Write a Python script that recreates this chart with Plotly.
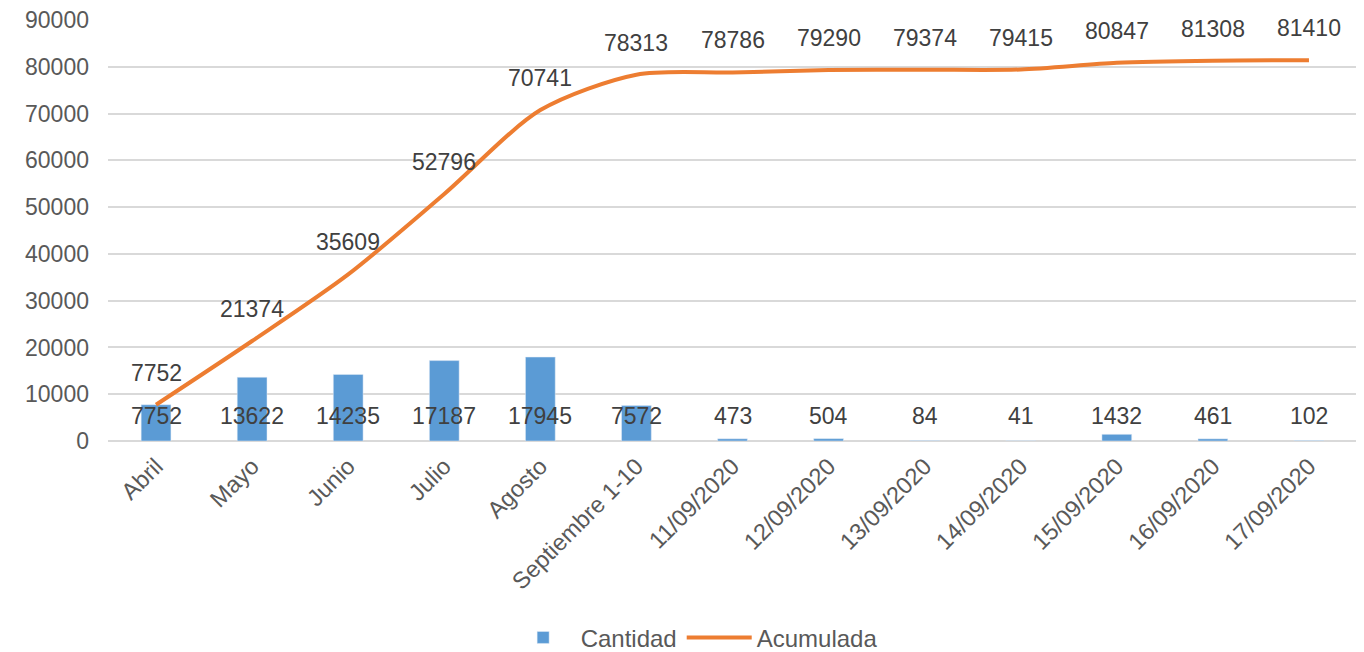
import plotly.graph_objects as go

categorias = ["Abril", "Mayo", "Junio", "Julio", "Agosto", "Septiembre 1-10",
              "11/09/2020", "12/09/2020", "13/09/2020", "14/09/2020",
              "15/09/2020", "16/09/2020", "17/09/2020"]
cantidad = [7752, 13622, 14235, 17187, 17945, 7572, 473, 504, 84, 41, 1432, 461, 102]
acumulada = [7752, 21374, 35609, 52796, 70741, 78313, 78786, 79290, 79374, 79415, 80847, 81308, 81410]

font_fam = "Liberation Sans, Arial, sans-serif"
txt_color = "#404040"
tick_color = "#595959"

fig = go.Figure()

fig.add_trace(go.Bar(
    x=categorias,
    y=cantidad,
    name="Cantidad",
    marker=dict(color="#5B9BD5"),
))

fig.add_trace(go.Scatter(
    x=categorias,
    y=acumulada,
    name="Acumulada",
    mode="lines",
    line=dict(color="#ED7D31", width=4, shape="spline", smoothing=0.8),
))

annotations = []
# bar labels sit at a fixed height near the base
for c, v in zip(categorias, cantidad):
    annotations.append(dict(x=c, y=0, text=str(v), showarrow=False, yshift=25,
                            font=dict(size=23, color=txt_color, family=font_fam)))
# line labels above each point
for c, v in zip(categorias, acumulada):
    annotations.append(dict(x=c, y=v, text=str(v), showarrow=False, yshift=32,
                            font=dict(size=23, color=txt_color, family=font_fam)))

# the page body adds an 8px offset, so the figure is a bit smaller than the window
fig.update_layout(
    width=1356,
    height=644,
    paper_bgcolor="white",
    plot_bgcolor="white",
    margin=dict(l=100, r=7, t=12, b=211),
    bargap=0.69,
    font=dict(family=font_fam, size=23, color=txt_color),
    annotations=annotations,
    xaxis=dict(
        tickangle=-45,
        showgrid=False,
        showline=False,
        zeroline=False,
        automargin=False,
        ticklabelstandoff=6,
        tickfont=dict(size=23.5, color=tick_color),
    ),
    yaxis=dict(
        range=[0, 90000],
        dtick=10000,
        tickformat="d",
        showgrid=True,
        gridcolor="#D9D9D9",
        gridwidth=1.5,
        zeroline=True,
        zerolinecolor="#D9D9D9",
        zerolinewidth=1.5,
        showline=False,
        automargin=False,
        ticklabelstandoff=18,
        ticklabeloverflow="allow",
        tickfont=dict(size=23, color=tick_color),
    ),
    showlegend=True,
    legend=dict(
        orientation="h",
        xref="container",
        yref="container",
        x=0.506,
        xanchor="center",
        y=0.022,
        yanchor="middle",
        font=dict(size=24, color=tick_color),
        itemwidth=65,
    ),
)

fig.write_html("out.html")
